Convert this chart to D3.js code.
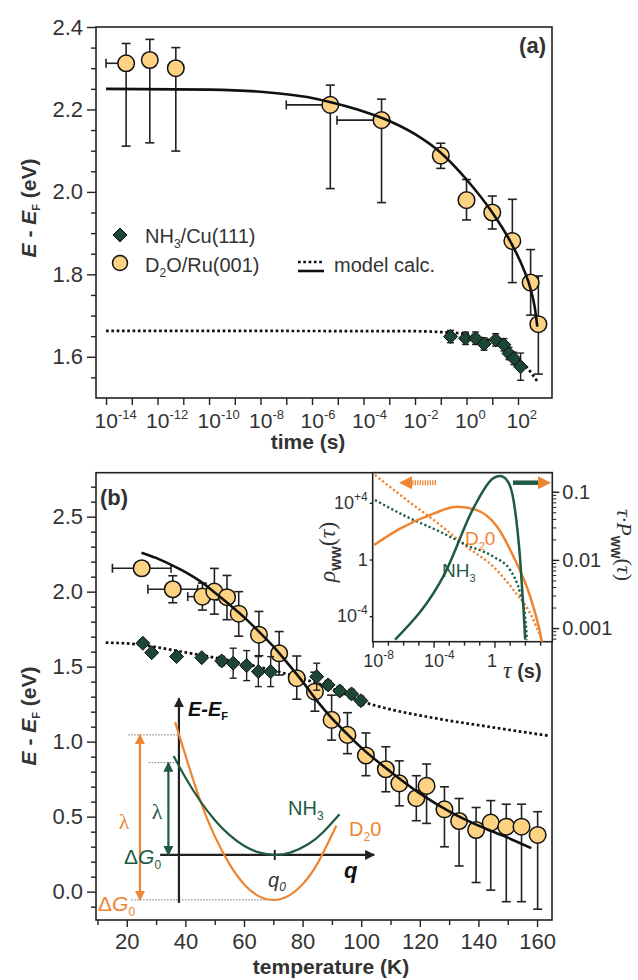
<!DOCTYPE html>
<html>
<head>
<meta charset="utf-8">
<script src="https://cdn.jsdelivr.net/npm/d3@7"></script>
<style>
  body { margin: 0; background: #fff; }
  svg { display: block; font-family: "Liberation Sans", Arial, sans-serif; }
</style>
</head>
<body>
<svg id="fig" width="638" height="980"></svg>
<script>
// ---------- panel (a): binding energy vs. time (log10 t in s) ----------
const aD2OLogT   = [-13.22, -12.30, -11.29, -5.29, -3.30, -1.0, 0.0, 1.0, 1.78, 2.49, 2.79];
const aD2OE      = [2.312, 2.320, 2.300, 2.211, 2.174, 2.088, 1.980, 1.950, 1.881, 1.780, 1.679];
const aD2OErrLo  = [0.201, 0.201, 0.201, 0.203, 0.200, 0.031, 0.048, 0.040, 0.101, 0.079, 0.121];
const aD2OErrHi  = [0.048, 0.050, 0.050, 0.048, 0.051, 0.030, 0.050, 0.040, 0.101, 0.080, 0.117];
const aD2OLogTErr = [0.78, 0, 0, 1.71, 1.73, 0, 0, 0, 0, 0, 0];   // only drawn to the left

const aNH3LogT = [-0.62, -0.04, 0.35, 0.68, 1.13, 1.45, 1.65, 1.84, 2.10];
const aNH3E    = [1.649, 1.645, 1.645, 1.631, 1.641, 1.629, 1.608, 1.596, 1.576];
const aNH3Err  = [0.015, 0.015, 0.015, 0.015, 0.015, 0.015, 0.015, 0.015, 0.033];

const aFitLogT = [-14, -10, -8, -7, -6, -5, -4, -3, -2, -1, 0, 1, 1.7, 2.2, 2.5, 2.65, 2.75];
const aFitE    = [2.250, 2.248, 2.243, 2.237, 2.228, 2.213, 2.195, 2.172, 2.140, 2.095, 2.030, 1.950, 1.880, 1.815, 1.762, 1.720, 1.673];
const aDotLogT = [-14, -2, -1, 0, 0.5, 1, 1.5, 2, 2.4, 2.75];
const aDotE    = [1.663, 1.662, 1.660, 1.655, 1.648, 1.637, 1.620, 1.595, 1.570, 1.540];

const aXTickExp = d3.range(-14, 3);
const aYMajor = [1.6, 1.8, 2.0, 2.2, 2.4];

// ---------- panel (b): binding energy vs. temperature ----------
const bD2OT     = [25.1, 35.7, 45.8, 49.9, 54.2, 58.2, 65.1, 72.0, 78.0, 84.2, 89.9, 95.3, 101.6, 108.4, 113.0, 118.8, 122.3, 128.4, 133.4, 139.2, 144.2, 149.5, 154.7, 160.2];
const bD2OE     = [2.156, 2.016, 1.967, 2.000, 1.963, 1.853, 1.713, 1.589, 1.423, 1.333, 1.145, 1.045, 0.908, 0.816, 0.722, 0.623, 0.705, 0.549, 0.471, 0.411, 0.460, 0.433, 0.433, 0.378];
const bD2OErrLo = [0, 0.09, 0.09, 0.15, 0.15, 0.15, 0.14, 0.145, 0.14, 0.13, 0.135, 0.125, 0.135, 0.15, 0.15, 0.15, 0.25, 0.25, 0.30, 0.35, 0.45, 0.50, 0.50, 0.495];
const bD2OErrHi = [0, 0.09, 0.09, 0.155, 0.145, 0.147, 0.155, 0.145, 0.148, 0.13, 0.165, 0.148, 0.15, 0.15, 0.15, 0.15, 0.146, 0.15, 0.15, 0.15, 0.147, 0.15, 0.15, 0.155];
const bD2OTErr  = [10, 8.5, 5, 0, 0, 0, 0, 0, 0, 0, 0, 0, 0, 0, 0, 0, 0, 0, 0, 0, 0, 0, 0, 0];

const bNH3T   = [25.5, 28.5, 37.0, 45.6, 52.4, 56.3, 60.9, 64.9, 69.1, 84.8, 88.7, 92.7, 96.7, 99.9];
const bNH3E   = [1.656, 1.593, 1.567, 1.560, 1.538, 1.523, 1.507, 1.467, 1.467, 1.433, 1.378, 1.338, 1.318, 1.273];
const bNH3Err = [0.02, 0.02, 0.02, 0.02, 0.03, 0.1, 0.1, 0.1, 0.1, 0.09, 0.03, 0.03, 0.03, 0.03];

const bFitT = [25, 30, 35, 40, 45, 50, 55, 60, 65, 70, 75, 80, 85, 90, 95, 100, 110, 120, 130, 140, 150, 158];
const bFitE = [2.26, 2.225, 2.18, 2.13, 2.07, 1.995, 1.915, 1.83, 1.735, 1.635, 1.52, 1.40, 1.27, 1.155, 1.055, 0.96, 0.80, 0.655, 0.535, 0.44, 0.36, 0.29];
const bDotT = [12.8, 20, 30, 40, 50, 60, 70, 80, 90, 100, 110, 120, 130, 140, 150, 163.7];
const bDotE = [1.66, 1.655, 1.63, 1.595, 1.56, 1.52, 1.475, 1.42, 1.355, 1.27, 1.215, 1.175, 1.14, 1.11, 1.08, 1.04];

// schematic (drawn in panel-b coordinates)
const schNH3T = [36.0, 40, 45, 50, 55, 60, 65, 70.5, 76, 82, 87, 92.6];
const schNH3E = [0.905, 0.761, 0.606, 0.478, 0.378, 0.306, 0.262, 0.245, 0.262, 0.318, 0.396, 0.516];
const schD2OT = [36.5, 40, 45, 50, 55, 60, 65, 70, 75, 80, 85, 91.5];
const schD2OE = [1.13, 0.91, 0.61, 0.37, 0.185, 0.05, -0.03, -0.055, -0.03, 0.05, 0.185, 0.44];

// ---------- inset: waiting-time distributions (log10 values) ----------
const insRhoD2OTau = [-7.85, -5.76, -3.57, -1.82, -0.07, 1.25, 2.35, 3.12];
const insRhoD2O    = [5.97, 4.2, 2.44, 0.9, -0.51, -2.15, -3.8, -5.69];
const insRhoNH3Tau = [-7.85, -5.76, -3.57, -1.82, -0.07, 1.03, 1.69, 2.02, 2.13];
const insRhoNH3    = [4.2, 3.02, 1.96, 1.02, 0.2, -0.74, -2.39, -4.04, -5.69];
const insPD2OTau = [-7.91, -6.2, -4.01, -2.47, -1.16, 0.16, 1.25, 2.35, 3.0, 3.12];
const insPD2O    = [-1.78, -1.54, -1.32, -1.22, -1.27, -1.51, -1.95, -2.54, -3.07, -3.2];
const insPNH3Tau = [-6.53, -3.24, -1.38, -0.07, 0.375, 0.82, 1.25, 1.69, 1.91, 2.02];
const insPNH3    = [-3.17, -2.19, -1.24, -0.80, -0.77, -0.83, -1.12, -2.0, -2.73, -3.17];

// ---------- styling ----------
const ink = "#222", txt = "#333";
const green = "#1f5a43", greenFill = "#1d4735", orange = "#ef8431", circFill = "#fdd283";
const svg = d3.select("#fig");

const defs = svg.append("defs");
function headMarker(id, color) {
  defs.append("marker").attr("id", id)
    .attr("viewBox", "0 0 10 10").attr("refX", 9).attr("refY", 5)
    .attr("markerWidth", 10).attr("markerHeight", 10).attr("markerUnits", "userSpaceOnUse")
    .attr("orient", "auto-start-reverse")
    .append("path").attr("d", "M0,0L10,5L0,10Z").attr("fill", color);
}
headMarker("hBlack", ink);
headMarker("hGreen", green);
headMarker("hOrange", orange);

const diamond = (g, x, y, s) => g.append("path")
  .attr("d", `M${x},${y - s}L${x + s},${y}L${x},${y + s}L${x - s},${y}Z`)
  .attr("fill", greenFill).attr("stroke", "#111").attr("stroke-width", 1);

function styleAxis(g) {
  g.selectAll("path.domain").remove();
  g.selectAll("line").attr("stroke", ink).attr("stroke-width", 1.4);
  g.selectAll("text").attr("fill", txt).style("font-size", "22px");
}

function vErr(g, x, y, lo, hi, cap) {
  if (!lo && !hi) return;
  g.append("line").attr("x1", x).attr("x2", x).attr("y1", y.lo).attr("y2", y.hi);
  if (lo) g.append("line").attr("x1", x - cap).attr("x2", x + cap).attr("y1", y.lo).attr("y2", y.lo);
  if (hi) g.append("line").attr("x1", x - cap).attr("x2", x + cap).attr("y1", y.hi).attr("y2", y.hi);
}

// ======================= PANEL (a) =======================
const xA = d3.scaleLog().domain([10 ** -14.39, 10 ** 3.32]).range([96, 552]);
const yA = d3.scaleLinear().domain([1.5, 2.4]).range([398, 27]);
const pA = svg.append("g");

const gxA = pA.append("g").attr("transform", "translate(0,398)")
  .call(d3.axisBottom(xA).tickValues(aXTickExp.map(e => 10 ** e)).tickSize(7).tickFormat(""));
styleAxis(gxA);
gxA.selectAll(".tick").each(function (d) {
  const e = Math.round(Math.log10(d));
  if (e % 2) return;
  const t = d3.select(this).append("text").attr("x", -12).attr("y", 30)
    .attr("text-anchor", "start").attr("fill", txt).style("font-size", "21px");
  t.append("tspan").text("10");
  t.append("tspan").attr("dy", -9).style("font-size", "13px").text(String(e));
});

const gyA = pA.append("g").attr("transform", "translate(96,0)")
  .call(d3.axisLeft(yA).tickValues(aYMajor).tickSize(9).tickPadding(4).tickFormat(d3.format(".1f")));
styleAxis(gyA);
const gyAm = pA.append("g").attr("transform", "translate(96,0)")
  .call(d3.axisLeft(yA).tickValues(d3.range(1.55, 2.4, 0.05).filter(v => Math.abs(v * 5 - Math.round(v * 5)) > 0.01)).tickSize(5).tickFormat(""));
styleAxis(gyAm);

pA.append("rect").attr("x", 96).attr("y", 27).attr("width", 456).attr("height", 371)
  .attr("fill", "none").attr("stroke", ink).attr("stroke-width", 1.6);

// model lines
const lineA = d3.line().x(d => xA(10 ** d[0])).y(d => yA(d[1])).curve(d3.curveMonotoneX);
pA.append("path").attr("d", lineA(aDotLogT.map((t, i) => [t, aDotE[i]])))
  .attr("fill", "none").attr("stroke", "#111").attr("stroke-width", 2.7).attr("stroke-dasharray", "2.7,2.6");

// D2O
const errA = pA.append("g").attr("stroke", ink).attr("stroke-width", 1.6);
aD2OLogT.forEach((t, i) => {
  const x = xA(10 ** t), y = yA(aD2OE[i]);
  vErr(errA, x, { lo: yA(aD2OE[i] - aD2OErrLo[i]), hi: yA(aD2OE[i] + aD2OErrHi[i]) }, aD2OErrLo[i], aD2OErrHi[i], 4.5);
  if (aD2OLogTErr[i]) {
    const xl = xA(10 ** (t - aD2OLogTErr[i]));
    errA.append("line").attr("x1", xl).attr("x2", x).attr("y1", y).attr("y2", y);
    errA.append("line").attr("x1", xl).attr("x2", xl).attr("y1", y - 4.5).attr("y2", y + 4.5);
  }
});
pA.append("g").selectAll("circle").data(aD2OLogT).join("circle")
  .attr("cx", d => xA(10 ** d)).attr("cy", (d, i) => yA(aD2OE[i])).attr("r", 8.3)
  .attr("fill", circFill).attr("stroke", "#111").attr("stroke-width", 1.5);

// NH3
const errA2 = pA.append("g").attr("stroke", ink).attr("stroke-width", 1.4);
aNH3LogT.forEach((t, i) => {
  const x = xA(10 ** t);
  vErr(errA2, x, { lo: yA(aNH3E[i] - aNH3Err[i]), hi: yA(aNH3E[i] + aNH3Err[i]) }, 1, 1, 3.5);
});
aNH3LogT.forEach((t, i) => diamond(pA, xA(10 ** t), yA(aNH3E[i]), 7));

pA.append("path").attr("d", lineA(aFitLogT.map((t, i) => [t, aFitE[i]])))
  .attr("fill", "none").attr("stroke", "#111").attr("stroke-width", 2.6);

// legend (a)
diamond(pA, 120, 235, 7);
pA.append("circle").attr("cx", 120).attr("cy", 263).attr("r", 7.5)
  .attr("fill", circFill).attr("stroke", "#111").attr("stroke-width", 1.5);
const lg1 = pA.append("text").attr("x", 145).attr("y", 243).attr("fill", txt).style("font-size", "20px");
lg1.append("tspan").text("NH");
lg1.append("tspan").attr("dy", 5).style("font-size", "12px").text("3");
lg1.append("tspan").attr("dy", -5).text("/Cu(111)");
const lg2 = pA.append("text").attr("x", 145).attr("y", 272).attr("fill", txt).style("font-size", "20px");
lg2.append("tspan").text("D");
lg2.append("tspan").attr("dy", 5).style("font-size", "12px").text("2");
lg2.append("tspan").attr("dy", -5).text("O/Ru(001)");
pA.append("line").attr("x1", 298).attr("x2", 324).attr("y1", 262).attr("y2", 262)
  .attr("stroke", "#111").attr("stroke-width", 2.7).attr("stroke-dasharray", "2.7,2.6");
pA.append("line").attr("x1", 298).attr("x2", 324).attr("y1", 271).attr("y2", 271)
  .attr("stroke", "#111").attr("stroke-width", 2.6);
pA.append("text").attr("x", 334).attr("y", 272).attr("fill", txt).style("font-size", "20px").text("model calc.");

pA.append("text").attr("x", 546).attr("y", 53).attr("text-anchor", "end").attr("fill", txt)
  .style("font-size", "22px").style("font-weight", "bold").text("(a)");

function yTitle(cx, cy) {
  const t = svg.append("text").attr("transform", `translate(${cx},${cy}) rotate(-90)`)
    .attr("text-anchor", "middle").attr("fill", txt).style("font-size", "21px").style("font-weight", "bold");
  t.append("tspan").style("font-style", "italic").text("E");
  t.append("tspan").text(" - ");
  t.append("tspan").style("font-style", "italic").text("E");
  t.append("tspan").attr("dy", 4).style("font-size", "11px").text("F");
  t.append("tspan").attr("dy", -4).text(" (eV)");
}
yTitle(36, 208);
svg.append("text").attr("x", 308).attr("y", 449).attr("text-anchor", "middle").attr("fill", txt)
  .style("font-size", "21px").style("font-weight", "bold").text("time (s)");

// ======================= PANEL (b) =======================
const xB = d3.scaleLinear().domain([9.5, 165.1]).range([96, 552]);
const yB = d3.scaleLinear().domain([-0.189, 2.793]).range([920, 472.7]);
const pB = svg.append("g");

const gxB = pB.append("g").attr("transform", "translate(0,920)")
  .call(d3.axisBottom(xB).tickValues(d3.range(20, 161, 20)).tickSize(7).tickPadding(6));
styleAxis(gxB);
gxB.selectAll("text").attr("dy", 0).attr("y", 29);
const gxBm = pB.append("g").attr("transform", "translate(0,920)")
  .call(d3.axisBottom(xB).tickValues(d3.range(10, 161, 20)).tickSize(5).tickFormat(""));
styleAxis(gxBm);

const gyB = pB.append("g").attr("transform", "translate(96,0)")
  .call(d3.axisLeft(yB).tickValues([0, 0.5, 1, 1.5, 2, 2.5]).tickSize(9).tickPadding(4).tickFormat(d3.format(".1f")));
styleAxis(gyB);
const gyBm = pB.append("g").attr("transform", "translate(96,0)")
  .call(d3.axisLeft(yB).tickValues(d3.range(-0.1, 2.75, 0.1).filter(v => Math.abs(v * 2 - Math.round(v * 2)) > 0.01)).tickSize(5).tickFormat(""));
styleAxis(gyBm);

pB.append("rect").attr("x", 96).attr("y", 472.7).attr("width", 456).attr("height", 447.3)
  .attr("fill", "none").attr("stroke", ink).attr("stroke-width", 1.6);

const lineB = d3.line().x(d => xB(d[0])).y(d => yB(d[1])).curve(d3.curveMonotoneX);
pB.append("path").attr("d", lineB(bDotT.map((t, i) => [t, bDotE[i]])))
  .attr("fill", "none").attr("stroke", "#111").attr("stroke-width", 2.7).attr("stroke-dasharray", "2.7,2.6");

// schematic
const sch = pB.append("g");
const gray = "#777";
sch.append("line").attr("x1", xB(20.5)).attr("x2", xB(37.8)).attr("y1", yB(1.045)).attr("y2", yB(1.045))
  .attr("stroke", gray).attr("stroke-width", 1).attr("stroke-dasharray", "1.5,1.5");
sch.append("line").attr("x1", xB(27.5)).attr("x2", xB(37.8)).attr("y1", yB(0.86)).attr("y2", yB(0.86))
  .attr("stroke", gray).attr("stroke-width", 1).attr("stroke-dasharray", "1.5,1.5");
sch.append("line").attr("x1", xB(21.5)).attr("x2", xB(70)).attr("y1", yB(-0.055)).attr("y2", yB(-0.055))
  .attr("stroke", gray).attr("stroke-width", 1).attr("stroke-dasharray", "1.5,1.5");
sch.append("line").attr("x1", xB(37.8)).attr("x2", xB(37.8)).attr("y1", yB(-0.075)).attr("y2", yB(1.29))
  .attr("stroke", ink).attr("stroke-width", 2.2).attr("marker-end", "url(#hBlack)");
sch.append("line").attr("x1", xB(31.4)).attr("x2", xB(104.4)).attr("y1", yB(0.245)).attr("y2", yB(0.245))
  .attr("stroke", ink).attr("stroke-width", 2.2).attr("marker-end", "url(#hBlack)");
sch.append("line").attr("x1", xB(70.5)).attr("x2", xB(70.5)).attr("y1", yB(0.245) - 5).attr("y2", yB(0.245) + 5)
  .attr("stroke", ink).attr("stroke-width", 2);
const lineS = d3.line().x(d => xB(d[0])).y(d => yB(d[1])).curve(d3.curveNatural);
sch.append("path").attr("d", lineS(schD2OT.map((t, i) => [t, schD2OE[i]])))
  .attr("fill", "none").attr("stroke", orange).attr("stroke-width", 2.2);
sch.append("path").attr("d", lineS(schNH3T.map((t, i) => [t, schNH3E[i]])))
  .attr("fill", "none").attr("stroke", green).attr("stroke-width", 2.2);
sch.append("line").attr("x1", xB(24.5)).attr("x2", xB(24.5)).attr("y1", yB(-0.055)).attr("y2", yB(1.045))
  .attr("stroke", orange).attr("stroke-width", 2.2)
  .attr("marker-start", "url(#hOrange)").attr("marker-end", "url(#hOrange)");
sch.append("line").attr("x1", xB(34.2)).attr("x2", xB(34.2)).attr("y1", yB(0.245)).attr("y2", yB(0.86))
  .attr("stroke", green).attr("stroke-width", 2.2)
  .attr("marker-start", "url(#hGreen)").attr("marker-end", "url(#hGreen)");

const serif = '"Liberation Serif", "DejaVu Serif", serif';
sch.append("text").attr("x", 124).attr("y", 829).attr("text-anchor", "middle").attr("fill", orange)
  .style("font-family", serif).style("font-size", "22px").text("λ");
sch.append("text").attr("x", 157).attr("y", 819).attr("text-anchor", "middle").attr("fill", green)
  .style("font-family", serif).style("font-size", "22px").text("λ");
function dG(x, y, color) {
  const t = sch.append("text").attr("x", x).attr("y", y).attr("fill", color).style("font-size", "21px");
  t.append("tspan").text("Δ");
  t.append("tspan").style("font-style", "italic").text("G");
  t.append("tspan").attr("dy", 5).style("font-size", "12px").text("0");
}
dG(124, 864, green);
dG(98, 911, orange);
const eef = sch.append("text").attr("x", 188).attr("y", 716).attr("fill", "#111")
  .style("font-size", "20px").style("font-weight", "bold");
eef.append("tspan").style("font-style", "italic").text("E-E");
eef.append("tspan").attr("dy", 4).style("font-size", "11px").text("F");
sch.append("text").attr("x", 344).attr("y", 878).attr("fill", "#111")
  .style("font-size", "22px").style("font-weight", "bold").style("font-style", "italic").text("q");
const q0 = sch.append("text").attr("x", 268).attr("y", 887).attr("fill", txt)
  .style("font-size", "20px").style("font-style", "italic");
q0.append("tspan").text("q");
q0.append("tspan").attr("dy", 4).style("font-size", "12px").text("0");
const nh3s = sch.append("text").attr("x", 288).attr("y", 815).attr("fill", green).style("font-size", "20px");
nh3s.append("tspan").text("NH");
nh3s.append("tspan").attr("dy", 5).style("font-size", "12px").text("3");
const d2os = sch.append("text").attr("x", 349).attr("y", 836).attr("fill", orange).style("font-size", "20px");
d2os.append("tspan").text("D");
d2os.append("tspan").attr("dy", 5).style("font-size", "12px").text("2");
d2os.append("tspan").attr("dy", -5).text("0");

// D2O data (b)
const errB = pB.append("g").attr("stroke", ink).attr("stroke-width", 1.6);
bD2OT.forEach((t, i) => {
  const x = xB(t), y = yB(bD2OE[i]);
  vErr(errB, x, { lo: yB(bD2OE[i] - bD2OErrLo[i]), hi: yB(bD2OE[i] + bD2OErrHi[i]) }, bD2OErrLo[i], bD2OErrHi[i], 4.5);
  if (bD2OTErr[i]) {
    const xl = xB(t - bD2OTErr[i]), xr = xB(t + bD2OTErr[i]);
    errB.append("line").attr("x1", xl).attr("x2", xr).attr("y1", y).attr("y2", y);
    errB.append("line").attr("x1", xl).attr("x2", xl).attr("y1", y - 4.5).attr("y2", y + 4.5);
    errB.append("line").attr("x1", xr).attr("x2", xr).attr("y1", y - 4.5).attr("y2", y + 4.5);
  }
});
pB.append("g").selectAll("circle").data(bD2OT).join("circle")
  .attr("cx", d => xB(d)).attr("cy", (d, i) => yB(bD2OE[i])).attr("r", 8.3)
  .attr("fill", circFill).attr("stroke", "#111").attr("stroke-width", 1.5);

// NH3 data (b)
const errB2 = pB.append("g").attr("stroke", ink).attr("stroke-width", 1.4);
bNH3T.forEach((t, i) => {
  vErr(errB2, xB(t), { lo: yB(bNH3E[i] - bNH3Err[i]), hi: yB(bNH3E[i] + bNH3Err[i]) }, 1, 1, 3.5);
});
bNH3T.forEach((t, i) => diamond(pB, xB(t), yB(bNH3E[i]), 7));

pB.append("path").attr("d", lineB(bFitT.map((t, i) => [t, bFitE[i]])))
  .attr("fill", "none").attr("stroke", "#111").attr("stroke-width", 2.6);

pB.append("text").attr("x", 100).attr("y", 505).attr("fill", txt)
  .style("font-size", "22px").style("font-weight", "bold").text("(b)");
yTitle(36, 716);
svg.append("text").attr("x", 331).attr("y", 974).attr("text-anchor", "middle").attr("fill", txt)
  .style("font-size", "21px").style("font-weight", "bold").text("temperature (K)");

// ======================= INSET =======================
const xI = d3.scaleLog().domain([1e-8, 10 ** 3.8]).range([372.7, 552.3]);
const yIL = d3.scaleLog().domain([10 ** -5.8, 10 ** 6.13]).range([641.7, 472.7]);
const yIR = d3.scaleLog().domain([10 ** -3.2, 10 ** -0.72]).range([641.7, 472.7]);
const pI = svg.append("g");
pI.append("rect").attr("x", 372.7).attr("y", 472.7).attr("width", 179.6).attr("height", 169)
  .attr("fill", "#fff").attr("stroke", ink).attr("stroke-width", 1.6);

const gxI = pI.append("g").attr("transform", "translate(0,641.7)")
  .call(d3.axisBottom(xI).tickValues(d3.range(-8, 4).map(e => 10 ** e)).tickSize(4).tickFormat(""));
styleAxis(gxI);
gxI.selectAll(".tick").each(function (d) {
  const e = Math.round(Math.log10(d));
  if (e % 4) return;
  const s = d3.select(this);
  s.select("line").attr("y2", 6);
  const t = s.append("text").attr("y", 25).attr("fill", txt).style("font-size", "18px");
  if (e === 0) { t.attr("text-anchor", "middle").attr("x", -3).text("1"); return; }
  t.attr("x", -10).attr("text-anchor", "start");
  t.append("tspan").text("10");
  t.append("tspan").attr("dy", -8).style("font-size", "12px").text(String(e));
});

const gyIL = pI.append("g").attr("transform", "translate(372.7,0)")
  .call(d3.axisLeft(yIL).tickValues([1e-4, 1, 1e4]).tickSize(3).tickPadding(3).tickFormat(""));
styleAxis(gyIL);
gyIL.selectAll(".tick").each(function (d) {
  const e = Math.round(Math.log10(d));
  const t = d3.select(this).append("text").attr("x", -5).attr("dy", "0.32em")
    .attr("text-anchor", "end").attr("fill", txt).style("font-size", "18px");
  if (e === 0) { t.text("1"); return; }
  t.append("tspan").text("10");
  t.append("tspan").attr("dy", -8).style("font-size", "12px").text(e > 0 ? "+" + e : String(e));
});

const rMinor = [];
[-4, -3, -2, -1].forEach(p => d3.range(1, 10).forEach(m => rMinor.push(m * 10 ** p)));
const gyIRm = pI.append("g").attr("transform", "translate(552.3,0)")
  .call(d3.axisRight(yIR).tickValues(rMinor.filter(v => v > 10 ** -3.2 && v < 10 ** -0.72)).tickSize(4).tickFormat(""));
styleAxis(gyIRm);
gyIRm.selectAll("line").attr("stroke-width", 1);
const gyIR = pI.append("g").attr("transform", "translate(552.3,0)")
  .call(d3.axisRight(yIR).tickValues([0.001, 0.01, 0.1]).tickSize(7).tickPadding(3).tickFormat(d => String(d)));
styleAxis(gyIR);
gyIR.selectAll("text").style("font-size", "20px");

const lineIL = d3.line().x(d => xI(10 ** d[0])).y(d => yIL(10 ** d[1])).curve(d3.curveMonotoneX);
const lineIR = d3.line().x(d => xI(10 ** d[0])).y(d => yIR(10 ** d[1])).curve(d3.curveMonotoneX);
pI.append("path").attr("d", lineIL(insRhoD2OTau.map((t, i) => [t, insRhoD2O[i]])))
  .attr("fill", "none").attr("stroke", orange).attr("stroke-width", 2.4).attr("stroke-dasharray", "2.2,2.4");
pI.append("path").attr("d", lineIL(insRhoNH3Tau.map((t, i) => [t, insRhoNH3[i]])))
  .attr("fill", "none").attr("stroke", green).attr("stroke-width", 2.4).attr("stroke-dasharray", "2.2,2.4");
pI.append("path").attr("d", lineIR(insPD2OTau.map((t, i) => [t, insPD2O[i]])))
  .attr("fill", "none").attr("stroke", orange).attr("stroke-width", 2.5);
pI.append("path").attr("d", lineIR(insPNH3Tau.map((t, i) => [t, insPNH3[i]])))
  .attr("fill", "none").attr("stroke", green).attr("stroke-width", 2.5);

// axis-direction arrows
pI.append("line").attr("x1", 436).attr("x2", 411).attr("y1", 482.7).attr("y2", 482.7)
  .attr("stroke", orange).attr("stroke-width", 5).attr("stroke-dasharray", "1.3,1.2");
pI.append("path").attr("d", "M399,482.7L412,476.2L412,489.2Z").attr("fill", orange);
pI.append("line").attr("x1", 513).attr("x2", 539).attr("y1", 482.7).attr("y2", 482.7)
  .attr("stroke", green).attr("stroke-width", 4.5);
pI.append("path").attr("d", "M551,482.7L538,476.2L538,489.2Z").attr("fill", orange);

const d2oI = pI.append("text").attr("x", 465).attr("y", 545).attr("fill", orange).style("font-size", "19px");
d2oI.append("tspan").text("D");
d2oI.append("tspan").attr("dy", 5).style("font-size", "11px").text("2");
d2oI.append("tspan").attr("dy", -5).text("0");
const nh3I = pI.append("text").attr("x", 442).attr("y", 577).attr("fill", green).style("font-size", "19px");
nh3I.append("tspan").text("NH");
nh3I.append("tspan").attr("dy", 5).style("font-size", "11px").text("3");

const tauS = pI.append("text").attr("x", 503).attr("y", 678).attr("fill", txt);
tauS.append("tspan").style("font-family", serif).style("font-style", "italic").style("font-size", "24px").text("τ");
tauS.append("tspan").style("font-size", "20px").style("font-weight", "bold").text(" (s)");

const rhoT = pI.append("text").attr("transform", "translate(335,552) rotate(-90)")
  .attr("text-anchor", "middle").attr("fill", txt).style("font-family", serif).style("font-size", "24px");
rhoT.append("tspan").style("font-style", "italic").text("ρ");
rhoT.append("tspan").attr("dy", 6).style("font-family", '"Liberation Sans", Arial, sans-serif')
  .style("font-weight", "bold").style("font-size", "13px").text("WW");
rhoT.append("tspan").attr("dy", -6).text("(");
rhoT.append("tspan").style("font-style", "italic").text("τ");
rhoT.append("tspan").text(")");

const pT = pI.append("text").attr("transform", "translate(617,545) rotate(90)")
  .attr("text-anchor", "middle").attr("fill", txt).style("font-family", serif).style("font-size", "22px");
pT.append("tspan").style("font-style", "italic").text("τ·P");
pT.append("tspan").attr("dy", 6).style("font-family", '"Liberation Sans", Arial, sans-serif')
  .style("font-weight", "bold").style("font-size", "12px").text("WW");
pT.append("tspan").attr("dy", -6).text("(");
pT.append("tspan").style("font-style", "italic").text("τ");
pT.append("tspan").text(")");
</script>
</body>
</html>
